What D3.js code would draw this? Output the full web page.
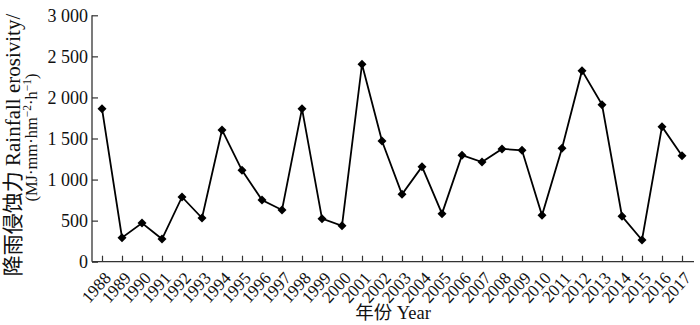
<!DOCTYPE html>
<html><head><meta charset="utf-8">
<script src="https://cdn.jsdelivr.net/npm/d3@7"></script>
<style>body{margin:0;background:#fff}text{font-family:"Liberation Serif","Noto Sans CJK SC",serif;fill:#111}</style>
</head><body><svg id="c" width="700" height="325"></svg>
<script>
const years = [1988,1989,1990,1991,1992,1993,1994,1995,1996,1997,1998,1999,2000,2001,2002,2003,2004,2005,2006,2007,2008,2009,2010,2011,2012,2013,2014,2015,2016,2017];
const erosivity = [1863,292,471,276,788,532,1604,1113,751,630,1863,524,438,2404,1470,821,1157,585,1296,1214,1373,1357,565,1381,2326,1912,553,264,1644,1291];
const yTicks = [0,500,1000,1500,2000,2500,3000];
const yTickLabels = ["0","500","1 000","1 500","2 000","2 500","3 000"];

const svg = d3.select("#c");
const x0 = 92, x1 = 694, yTop = 15.3, yBot = 261.7;
const x = d3.scalePoint().domain(years).range([102, 682]);
const y = d3.scaleLinear().domain([0,3000]).range([yBot, yTop]);

// y axis
const ya = svg.append("g").attr("transform",`translate(${x0},0)`)
  .call(d3.axisLeft(y).tickValues(yTicks).tickSize(-6).tickPadding(4).tickFormat((d,i)=>yTickLabels[i]));
ya.select(".domain").attr("d",`M0,${yTop}V${yBot}`).attr("stroke","#333").attr("stroke-width",1.3);
ya.selectAll(".tick line").attr("stroke","#333").attr("stroke-width",1.2);
ya.selectAll(".tick text").style("font-size","18px").attr("x",-4);

// x axis
const xa = svg.append("g").attr("transform",`translate(0,${yBot})`)
  .call(d3.axisBottom(x).tickSize(-6).tickPadding(2));
xa.select(".domain").attr("d",`M${x0},0H${x1}`).attr("stroke","#333").attr("stroke-width",1.3);
xa.selectAll(".tick line").attr("stroke","#333").attr("stroke-width",1.2);
xa.selectAll(".tick text").style("font-size","17px")
  .attr("text-anchor","end").attr("dy","0.35em")
  .attr("transform","translate(5,13) rotate(-48)").attr("y",0).attr("x",0);

// line
const line = d3.line().x((d,i)=>x(years[i])).y(d=>y(d));
svg.append("path").datum(erosivity).attr("d",line).attr("fill","none").attr("stroke","#000").attr("stroke-width",1.8);
svg.selectAll(".pt").data(erosivity).enter().append("path")
  .attr("transform",(d,i)=>`translate(${x(years[i])},${y(d)})`)
  .attr("d","M0,-4.5L4.5,0L0,4.5L-4.5,0Z").attr("fill","#000");

// titles
svg.append("text").attr("transform","translate(20,145) rotate(-90)").attr("text-anchor","middle")
  .style("font-size","21px").text("降雨侵蚀力 Rainfall erosivity/");
const t2 = svg.append("text").attr("transform","translate(37,137.5) rotate(-90)").attr("text-anchor","middle")
  .style("font-size","16.5px").style("font-family","'Liberation Serif'");
t2.append("tspan").text("(MJ\u00B7mm\u00B7hm");
t2.append("tspan").attr("dy",-6).style("font-size","11.5px").text("\u22122");
t2.append("tspan").attr("dy",6).text("\u00B7h");
t2.append("tspan").attr("dy",-6).style("font-size","11.5px").text("\u22121");
t2.append("tspan").attr("dy",6).text(")");
svg.append("text").attr("x",393).attr("y",319).attr("text-anchor","middle").style("font-size","18.5px").text("年份 Year");
</script></body></html>
